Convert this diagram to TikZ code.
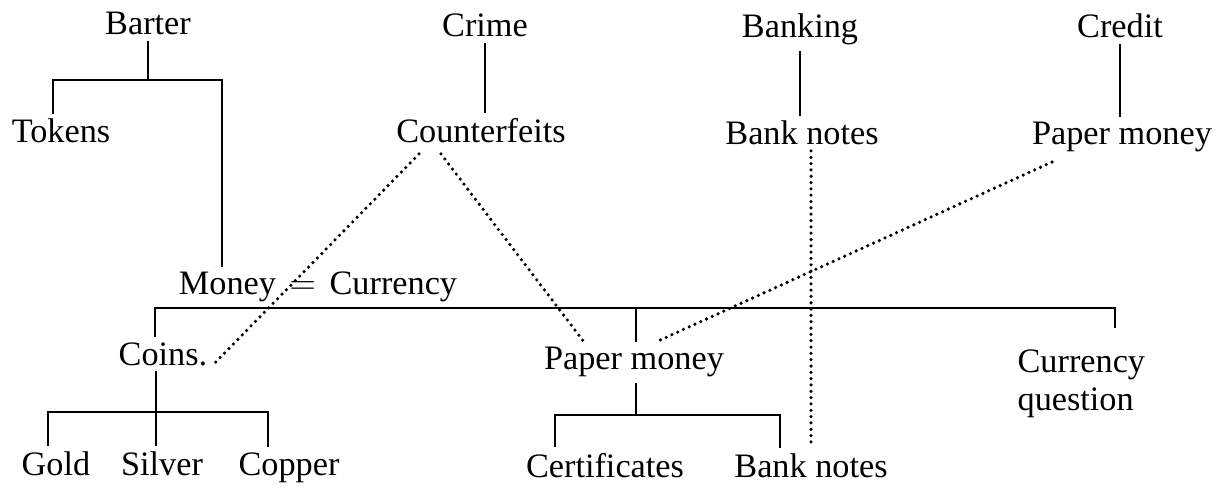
\documentclass[tikz,border=0pt]{standalone}
\usepackage{fontspec}
\setmainfont{Liberation Serif}
\usepackage{tikz}
\usetikzlibrary{calc}
\tikzstyle{word} = [font=\fontsize{19.5}{21.5}\selectfont, inner sep=3pt, anchor=base]
\tikzstyle{tie} = [line width=1.3pt]
\tikzstyle{link} = [line width=2pt, line cap=round, dash pattern=on 0pt off 3.6pt]

\begin{document}
\begin{tikzpicture}[x=0.02cm, y=-0.02cm]
\useasboundingbox (0,0) rectangle (1230,489);
% Headings
\node[word] (barter) at (148,35) {Barter};
\node[word] (crime) at (485,37) {Crime};
\node[word] (banking) at (800,38) {Banking};
\node[word] (credit) at (1120,38) {Credit};

% Second row
\node[word] (tokens) at (61,143) {Tokens};
\node[word] (counterfeits) at (481,143) {Counterfeits};
\node[word] (banknotesA) at (802,145) {Bank notes};
\node[word] (paperA) at (1122,145) {Paper money};

% Money and its branches
\node[word] (money) at (318,295) {Money\hspace{0.4em}$=$\hspace{0.4em}Currency};
\node[word] (coins) at (163,365) {Coins.};
\node[word] (paperB) at (634,370) {Paper money};
\node[word, anchor=base west, align=left] (question) at (1012,410) {Currency\\question};

% Bottom row
\node[word] (gold) at (56,475) {Gold};
\node[word] (silver) at (162,475) {Silver};
\node[word] (copper) at (289,475) {Copper};
\node[word] (certificates) at (605,477) {Certificates};
\node[word] (banknotesB) at (811,477) {Bank notes};

% Solid ties
\coordinate (barterfork) at (148,80);
\draw[tie] (barter) -- (barterfork);
\draw[tie] (tokens.north -| 53,0) |- (barterfork) -| (money.north -| 222,0);
\draw[tie] (crime) -- (crime |- counterfeits.north);
\draw[tie] (banking) -- (banking |- banknotesA.north);
\draw[tie] (credit) -- (credit |- paperA.north);

\draw[tie] (coins.north -| 155,0) |- (money.south) -- (money.south -| 1115,0) -- ++(0,20);
\draw[tie] (money.south -| 636,0) -- (paperB.north -| 636,0);

\coordinate (coinfork) at (156,412);
\draw[tie] (coins.south -| coinfork) -- (coinfork);
\draw[tie] (gold.north -| 48,0) |- (coinfork) -| (copper.north -| 268,0);
\draw[tie] (coinfork) -- (silver.north -| coinfork);

\coordinate (paperfork) at (636,415);
\draw[tie] (paperB.south -| paperfork) -- (paperfork);
\draw[tie] (certificates.north -| 555,0) |- (paperfork) -| (banknotesB.north -| 780,0);

% Dotted links
\draw[link] ($(counterfeits.south)+(-62,5)$) -- (coins.base east);
\draw[link] ($(counterfeits.south)+(-40,5)$) -- ($(paperB.north)+(-50,0)$);
\draw[link] ($(paperA.south)+(-70,4)$) -- ($(paperB.north)+(22,0)$);
\draw[link] (banknotesB.north |- banknotesA.south) -- (banknotesB.north);
\end{tikzpicture}
\end{document}
